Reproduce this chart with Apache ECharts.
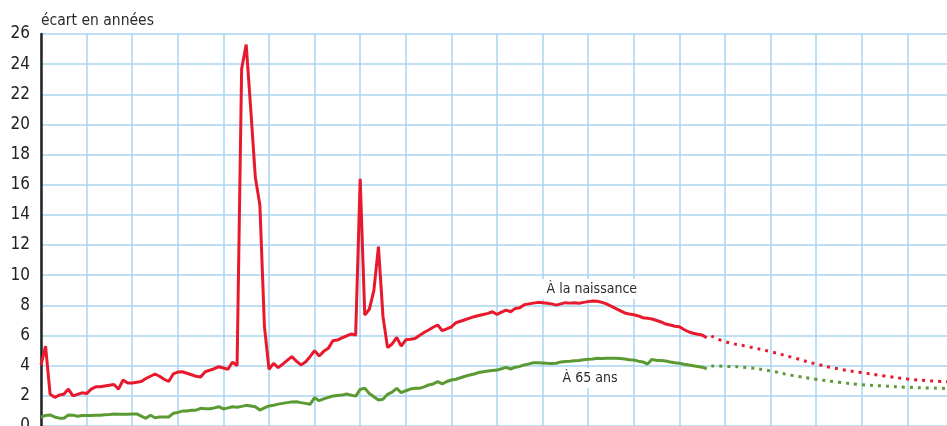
<!DOCTYPE html>
<html>
<head>
<meta charset="utf-8">
<script src="https://cdn.jsdelivr.net/npm/echarts@6/dist/echarts.min.js"></script>
<style>
  html, body { margin: 0; padding: 0; background: #fff; }
  #chart { width: 947px; height: 426px; }
</style>
</head>
<body>
<div id="chart"></div>
<script>
// écart d'espérance de vie femmes - hommes, 1870 à 2016 puis projection
const firstYear = 1870

const atBirth = [
  4.05, 5.3, 2.1, 1.9, 2.05, 2.1, 2.45, 2.0, 2.1, 2.2,
  2.15, 2.45, 2.6, 2.6, 2.65, 2.7, 2.75, 2.45, 3.05, 2.85,
  2.85, 2.9, 2.95, 3.15, 3.3, 3.45, 3.3, 3.1, 2.95, 3.45,
  3.58, 3.6, 3.5, 3.4, 3.3, 3.25, 3.6, 3.7, 3.8, 3.93,
  3.85, 3.76, 4.24, 4.0, 23.7, 25.3, 21.0, 16.5, 14.65, 6.6,
  3.76, 4.16, 3.87, 4.1, 4.35, 4.6, 4.3, 4.05, 4.25, 4.6,
  5.0, 4.64, 4.95, 5.15, 5.65, 5.7, 5.85, 5.97, 6.1, 6.03,
  16.4, 7.36, 7.74, 9.0, 11.9, 7.25, 5.2, 5.44, 5.88, 5.3,
  5.72, 5.75, 5.8, 6.0, 6.2, 6.37, 6.55, 6.7, 6.32, 6.45,
  6.58, 6.85, 6.95, 7.05, 7.15, 7.25, 7.33, 7.4, 7.47, 7.58,
  7.4, 7.55, 7.69, 7.58, 7.8, 7.85, 8.05, 8.1, 8.15, 8.2,
  8.18, 8.14, 8.1, 8.02, 8.1, 8.18, 8.15, 8.17, 8.14, 8.2,
  8.25, 8.29, 8.27, 8.2, 8.1, 7.95, 7.8, 7.65, 7.5, 7.43,
  7.38, 7.3, 7.18, 7.14, 7.1, 7.0, 6.9, 6.76, 6.7, 6.62,
  6.58, 6.4, 6.25, 6.15, 6.08, 6.03, 5.85
]

const at65 = [
  0.58, 0.7, 0.73, 0.6, 0.52, 0.51, 0.73, 0.72, 0.65, 0.7,
  0.7, 0.7, 0.72, 0.72, 0.75, 0.77, 0.8, 0.78, 0.78, 0.78,
  0.8, 0.8, 0.65, 0.51, 0.71, 0.55, 0.6, 0.6, 0.6, 0.84,
  0.9, 0.99, 1.0, 1.05, 1.05, 1.17, 1.15, 1.15, 1.2, 1.28,
  1.13, 1.2, 1.28, 1.24, 1.3, 1.37, 1.33, 1.28, 1.06, 1.2,
  1.33, 1.38, 1.45, 1.5, 1.55, 1.6, 1.61, 1.55, 1.5, 1.44,
  1.88, 1.68, 1.8, 1.9, 1.99, 2.02, 2.05, 2.12, 2.05, 1.98,
  2.43, 2.5, 2.15, 1.94, 1.72, 1.77, 2.1, 2.25, 2.5, 2.21,
  2.34, 2.45, 2.5, 2.5, 2.6, 2.72, 2.79, 2.94, 2.79, 2.95,
  3.05, 3.1, 3.2, 3.3, 3.38, 3.45, 3.55, 3.6, 3.65, 3.68,
  3.71, 3.8, 3.89, 3.78, 3.9, 3.95, 4.05, 4.12, 4.2, 4.2,
  4.18, 4.16, 4.15, 4.16, 4.25, 4.28, 4.3, 4.33, 4.35, 4.4,
  4.42, 4.45, 4.49, 4.48, 4.5, 4.5, 4.49, 4.47, 4.45, 4.4,
  4.38, 4.3, 4.25, 4.11, 4.42, 4.35, 4.35, 4.31, 4.25, 4.2,
  4.16, 4.1, 4.05, 4.0, 3.95, 3.9, 3.8
]

// projections (pointillés)
const projYears = [2017, 2020, 2025, 2030, 2035, 2040, 2045, 2050, 2055, 2060, 2065, 2070]
const projBirth = [5.97, 5.6, 5.27, 4.93, 4.53, 4.11, 3.78, 3.54, 3.32, 3.12, 3.0, 2.92]
const proj65 = [3.98, 3.96, 3.87, 3.65, 3.34, 3.1, 2.9, 2.74, 2.65, 2.57, 2.52, 2.48]

const yTicks = [0, 26, 2]

const RED = '#e8192c'
const GREEN = '#5b9a33'
const GRID = '#a9d5f1'
const FONT = '"Liberation Sans Narrow", "DejaVu Sans Condensed", sans-serif'

const toPairs = (vals) => vals.map((v, i) => [firstYear + i, v])
const zip = (xs, ys) => xs.map((x, i) => [x, ys[i]])

const labelStyle = {
  show: true,
  position: 'inside',
  color: '#2b2b2b',
  fontFamily: FONT,
  fontSize: 14,
  backgroundColor: '#fff',
  padding: [3, 5]
}

const chart = echarts.init(document.getElementById('chart'))

chart.setOption({
  animation: false,
  title: {
    text: 'écart en années',
    left: 36,
    top: 8,
    textStyle: { fontFamily: FONT, fontSize: 15.5, fontWeight: 'normal', color: '#2b2b2b' }
  },
  grid: { left: 41, top: 34, width: 912, bottom: 0, outerBoundsMode: 'none', containLabel: false },
  xAxis: {
    type: 'value',
    min: 1870,
    max: 2070,
    interval: 10,
    axisLine: { show: false },
    axisTick: { show: false },
    axisLabel: { show: false },
    splitLine: { lineStyle: { color: GRID, width: 1.5 } }
  },
  yAxis: {
    type: 'value',
    min: yTicks[0],
    max: yTicks[1],
    interval: yTicks[2],
    axisLine: { show: true, lineStyle: { color: '#222', width: 2.5 } },
    axisTick: { show: false },
    axisLabel: { fontFamily: FONT, fontSize: 17, color: '#222', margin: 11 },
    splitLine: { lineStyle: { color: GRID, width: 1.5 } }
  },
  series: [
    {
      name: 'À la naissance',
      type: 'line',
      data: toPairs(atBirth),
      showSymbol: false,
      lineStyle: { color: RED, width: 3 },
      z: 4,
      markPoint: {
        symbol: 'rect',
        symbolSize: 1,
        itemStyle: { color: 'rgba(0,0,0,0)' },
        label: labelStyle,
        data: [{ coord: [1990.8, 9.08], label: { formatter: 'À la naissance' } }]
      }
    },
    {
      name: 'À 65 ans',
      type: 'line',
      data: toPairs(at65),
      showSymbol: false,
      lineStyle: { color: GREEN, width: 3 },
      z: 3,
      markPoint: {
        symbol: 'rect',
        symbolSize: 1,
        itemStyle: { color: 'rgba(0,0,0,0)' },
        label: labelStyle,
        data: [{ coord: [1990.4, 3.16], label: { formatter: 'À 65 ans' } }]
      }
    },
    {
      type: 'line',
      data: zip(projYears, projBirth),
      smooth: true,
      showSymbol: false,
      lineStyle: { color: RED, width: 3, type: [3, 5] },
      z: 2
    },
    {
      type: 'line',
      data: zip(projYears, proj65),
      smooth: true,
      showSymbol: false,
      lineStyle: { color: GREEN, width: 3, type: [3, 5] },
      z: 2
    }
  ]
})
</script>
</body>
</html>
